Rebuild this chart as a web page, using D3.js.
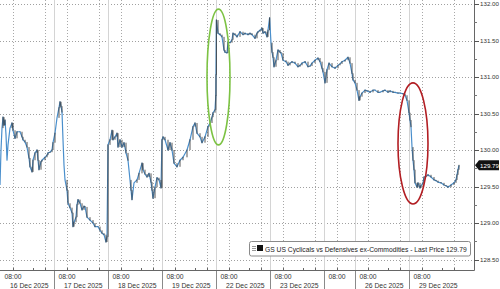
<!DOCTYPE html>
<html><head><meta charset="utf-8">
<script src="https://cdn.jsdelivr.net/npm/d3@7"></script>
<style>html,body{margin:0;padding:0;background:#fff;overflow:hidden}</style>
</head><body><svg id="c" width="500" height="289"></svg>
<script>
// ---------- DATA ----------
const sessionDates = ["16 Dec 2025","17 Dec 2025","18 Dec 2025","19 Dec 2025","22 Dec 2025","23 Dec 2025","","26 Dec 2025","29 Dec 2025"];
const sessionLengths = [13.5,13.5,13.5,13.5,13.5,13.5,7.75,13.5,13.5]; // trading hours per session
const sessionOpenHour = 4.75;   // 04:45
const xEndHours = 118.5;
const gridHours = [8, 16];
const tickHours = [8, 13, 16];
const timeLabel = "08:00";
const priceTicks = [128.5,129,129.5,130,130.5,131,131.5,132];
const minorPriceTicks = [128.75,129.25,129.75,130.25,130.75,131.25,131.75];
const seriesName = "GS US Cyclicals vs Defensives ex-Commodities - Last Price";
const lastPrice = 129.79;
// [elapsed trading hours, price]
const priceSeries = [
[0,129.52],[0.25,130.00],[0.5,130.30],[0.75,130.45],[1.0,130.34],[1.25,130.41],[1.5,130.21],[1.75,129.86],[2.0,130.07],[2.5,130.30],
[3.0,130.37],[3.25,130.27],[3.75,130.16],[4.25,130.25],[5.0,130.25],[5.5,130.18],[5.75,130.14],[6.25,130.11],[6.75,130.04],[7.25,129.89],
[7.5,129.77],[8.0,129.70],[8.25,129.86],[8.75,129.96],[9.25,130.00],[9.5,129.86],[9.75,129.73],[10.25,129.84],[10.5,129.86],[11.25,129.90],
[11.75,129.93],[12.0,129.96],[12.5,129.97],[13.0,130.00],[13.25,130.10],
[13.75,130.23],[14.25,130.44],[14.75,130.58],[15.0,130.66],[15.25,130.60],[15.5,130.52],[15.75,130.14],[16.0,129.79],[16.25,129.59],[16.75,129.45],
[17.0,129.27],[17.5,129.21],[18.0,129.14],[18.25,128.95],[18.5,129.01],[19.0,129.08],[19.25,129.25],[19.5,129.32],[20.0,129.27],[20.5,129.18],
[21.0,129.23],[21.25,129.22],[21.75,129.08],[22.5,129.04],[23.25,129.00],[23.75,128.95],[24.5,128.95],[25.0,128.90],[25.5,128.86],[26.0,128.84],
[26.5,128.74],[26.75,128.81],
[27.0,130.07],[27.5,130.14],[28.0,130.27],[28.25,130.14],[28.75,130.18],[29.25,130.23],[29.5,130.04],[30.0,130.14],[30.5,130.04],[31.0,130.10],
[31.5,129.96],[32.0,129.86],[32.5,129.59],[32.75,129.45],[33.0,129.32],[33.5,129.55],[34.25,129.59],[34.75,129.68],[35.5,129.82],[35.75,129.73],
[36.25,129.67],[36.75,129.63],[37.25,129.68],[37.75,129.56],[38.0,129.45],[38.25,129.34],[38.75,129.49],[39.25,129.62],[39.75,129.59],[40.25,129.48],
[40.5,130.14],[40.75,130.18],[41.25,130.14],[42.0,130.00],[42.5,130.10],[43.0,130.00],[43.5,129.82],[44.25,129.77],[45.0,129.86],[45.75,129.90],
[46.75,130.00],[47.5,130.14],[48.25,130.32],[48.75,130.37],[49.25,130.23],[50.0,130.18],[50.5,130.10],[51.25,130.18],[52.0,130.32],[52.5,130.37],
[53.0,130.45],[53.25,130.51],[53.75,130.55],[53.95,130.74],
[54.0,131.03],[54.1,131.78],[54.5,131.60],[55.0,131.58],[55.5,131.55],[56.0,131.37],[56.25,131.34],[56.75,131.33],[57.0,131.48],[57.5,131.47],
[58.0,131.51],[58.25,131.60],[58.75,131.58],[59.25,131.55],[60.0,131.62],[60.75,131.58],[61.25,131.60],[62.0,131.58],[62.5,131.60],[63.0,131.58],
[63.75,131.53],[64.25,131.60],[64.5,131.62],[65.0,131.64],[65.5,131.67],[65.75,131.60],[66.25,131.62],[66.75,131.55],[67.0,131.64],[67.4,131.81],
[67.75,131.47],[68.0,131.34],[68.25,131.27],[68.5,131.14],[69.0,131.23],[69.5,131.37],[70.0,131.34],[70.25,131.33],[70.75,131.23],[71.5,131.21],
[72.0,131.16],[72.5,131.19],[73.0,131.21],[73.75,131.19],[74.5,131.14],[75.0,131.16],[75.5,131.19],[76.25,131.21],[77.0,131.14],[77.5,131.15],
[78.0,131.19],[78.75,131.23],[79.5,131.26],[80.0,131.21],[80.5,131.12],[80.75,131.07],
[81.25,130.92],[81.75,131.10],[82.25,131.19],[83.0,131.14],[83.75,131.12],[84.5,131.16],[85.0,131.18],[85.5,131.21],[86.25,131.23],[87.0,131.27],
[87.5,131.19],[88.0,131.05],[88.25,130.96],
[88.75,130.92],[89.25,130.82],[89.75,130.68],[90.0,130.73],[90.5,130.78],[91.25,130.82],[91.75,130.81],[92.5,130.79],[93.25,130.82],[93.75,130.82],
[94.5,130.79],[95.0,130.79],[95.75,130.81],[96.25,130.82],[97.0,130.79],[97.5,130.81],[98.25,130.79],[98.75,130.79],[99.5,130.78],[100.0,130.78],
[100.75,130.77],[101.25,130.75],[101.75,130.68],
[102.25,130.51],[102.5,130.41],[102.75,130.32],[103.0,130.04],[103.25,129.86],[103.5,129.73],[103.75,129.55],[104.25,129.49],[104.5,129.55],[105.0,129.48],
[105.25,129.51],[105.75,129.55],[106.0,129.63],[106.5,129.64],[107.0,129.66],[107.75,129.63],[108.5,129.59],[109.0,129.58],[109.5,129.56],[110.25,129.55],
[111.0,129.52],[111.5,129.51],[112.0,129.49],[112.75,129.52],[113.5,129.55],[114.0,129.59],[114.25,129.66],[114.5,129.73],[114.75,129.79]
];
// annotation ellipses: [startHours, endHours, lowPrice, highPrice, colour]
const annotations = [
  [51.75, 57.5, 130.07, 131.93, "#7cc243"],
  [99.5, 107.0, 129.26, 130.92, "#b21e23"]
];

// ---------- CHART ----------
const svg = d3.select("#c");
const plotRight = 474, plotBottom = 270;
const x = d3.scaleLinear().domain([0, xEndHours]).range([0, plotRight]);
const y = d3.scaleLinear().domain([128.5, 132]).range([259.5, 4]);
const FONT = "'Liberation Sans', Arial, sans-serif";

const starts = []; let acc = 0;
sessionLengths.forEach(l => { starts.push(acc); acc += l; });

// horizontal dotted grid
svg.append("g").selectAll("line").data(priceTicks).join("line")
  .attr("x1", 0).attr("x2", plotRight)
  .attr("y1", d => Math.round(y(d)) + 0.5).attr("y2", d => Math.round(y(d)) + 0.5)
  .attr("stroke", "#a0a0a0").attr("stroke-dasharray", "1,2");

// vertical dotted grid at 08:00 / 16:00
const gridPos = [];
starts.forEach((s, i) => gridHours.forEach(h => {
  const off = h - sessionOpenHour;
  if (off < sessionLengths[i] || i === starts.length - 1) gridPos.push(s + off);
}));
svg.append("g").selectAll("line").data(gridPos).join("line")
  .attr("x1", d => Math.round(x(d)) + 0.5).attr("x2", d => Math.round(x(d)) + 0.5)
  .attr("y1", 0).attr("y2", plotBottom)
  .attr("stroke", "#a8a8a8").attr("stroke-dasharray", "1,2");

// session separators
const seps = starts.slice(1);
svg.append("g").selectAll("line").data(seps).join("line")
  .attr("x1", d => Math.round(x(d)) + 0.5).attr("x2", d => Math.round(x(d)) + 0.5)
  .attr("y1", 0).attr("y2", plotBottom)
  .attr("stroke", "#d4d4d4").attr("stroke-width", 1);
svg.append("g").selectAll("line").data(seps).join("line")
  .attr("x1", d => Math.round(x(d)) + 0.5).attr("x2", d => Math.round(x(d)) + 0.5)
  .attr("y1", plotBottom).attr("y2", 289)
  .attr("stroke", "#8a8a8a").attr("stroke-width", 1);

// series: blue close line
const line = d3.line().x(d => x(d[0])).y(d => y(d[1]));
svg.append("path").datum(priceSeries).attr("d", line)
  .attr("fill", "none").attr("stroke", "#4a8fcc").attr("stroke-width", 1.2)
  .attr("stroke-linejoin", "round");

// dark range bars between consecutive points
const isOpen = h => starts.some(s => Math.abs(s - h) < 1e-9) ;
const bars = [];
for (let i = 1; i < priceSeries.length; i++) {
  const [h, v] = priceSeries[i];
  const pv = priceSeries[i - 1][1];
  const dy = Math.abs(y(v) - y(pv));
  if (dy <= 14 || isOpen(h) || h === 54.1) bars.push([h, pv, v]);
}
svg.append("g").selectAll("line").data(bars).join("line")
  .attr("x1", d => x(d[0])).attr("x2", d => x(d[0]))
  .attr("y1", d => y(d[1])).attr("y2", d => y(d[2]) + (d[2] < d[1] ? 1 : -1) * 0.5)
  .attr("stroke", "#3a3a3a").attr("stroke-width", 1).attr("stroke-opacity", 0.85);

// annotation ellipses
svg.append("g").selectAll("ellipse").data(annotations).join("ellipse")
  .attr("cx", d => (x(d[0]) + x(d[1])) / 2)
  .attr("cy", d => (y(d[2]) + y(d[3])) / 2)
  .attr("rx", d => (x(d[1]) - x(d[0])) / 2)
  .attr("ry", d => (y(d[2]) - y(d[3])) / 2)
  .attr("fill", "none").attr("stroke", d => d[4]).attr("stroke-width", 1.6);

// axes lines
svg.append("line").attr("x1", 0).attr("x2", plotRight + 0.5).attr("y1", plotBottom + 0.5).attr("y2", plotBottom + 0.5)
  .attr("stroke", "#666");
svg.append("line").attr("x1", plotRight + 0.5).attr("x2", plotRight + 0.5).attr("y1", 0).attr("y2", plotBottom + 0.5)
  .attr("stroke", "#666");

// y ticks
svg.append("g").selectAll("line").data(priceTicks).join("line")
  .attr("x1", plotRight).attr("x2", plotRight + 5)
  .attr("y1", d => Math.round(y(d)) + 0.5).attr("y2", d => Math.round(y(d)) + 0.5)
  .attr("stroke", "#555");
svg.append("g").selectAll("line").data(minorPriceTicks).join("line")
  .attr("x1", plotRight).attr("x2", plotRight + 3)
  .attr("y1", d => Math.round(y(d)) + 0.5).attr("y2", d => Math.round(y(d)) + 0.5)
  .attr("stroke", "#777");
svg.append("g").selectAll("text").data(priceTicks).join("text")
  .attr("x", plotRight + 6).attr("y", d => y(d) + 2.2)
  .attr("font-family", FONT).attr("font-size", 6.2).attr("fill", "#333")
  .text(d => d.toFixed(2));

// x ticks
const tickPos = [];
starts.forEach((s, i) => tickHours.forEach(h => {
  const off = h - sessionOpenHour;
  if (off < sessionLengths[i]) tickPos.push(s + off);
}));
svg.append("g").selectAll("line").data(tickPos).join("line")
  .attr("x1", d => Math.round(x(d)) + 0.5).attr("x2", d => Math.round(x(d)) + 0.5)
  .attr("y1", plotBottom - 2).attr("y2", plotBottom)
  .attr("stroke", "#666");

// x labels
const labelG = svg.append("g").attr("font-family", FONT).attr("font-size", 6.8).attr("fill", "#333");
starts.forEach((s, i) => {
  const px = x(s + 8 - sessionOpenHour);
  labelG.append("text").attr("x", px).attr("y", 279).attr("text-anchor", "middle").text(timeLabel);
  if (sessionDates[i]) labelG.append("text").attr("x", px - 3).attr("y", 287.5).text(sessionDates[i]);
});

// last price tag
const ty = y(lastPrice);
svg.append("path")
  .attr("d", `M${plotRight + 1},${ty} L${plotRight + 5},${ty - 5} L499,${ty - 5} L499,${ty + 5} L${plotRight + 5},${ty + 5} Z`)
  .attr("fill", "#111");
svg.append("text").attr("x", plotRight + 6).attr("y", ty + 2.2)
  .attr("font-family", FONT).attr("font-size", 6.2).attr("fill", "#fff").text(lastPrice.toFixed(2));

// legend
const lg = svg.append("g");
lg.append("rect").attr("x", 249.5).attr("y", 241.5).attr("width", 221).attr("height", 14.5)
  .attr("rx", 2).attr("fill", "#fff").attr("stroke", "#8a8a8a");
[0, 2, 4].forEach(o => lg.append("line").attr("x1", 252).attr("x2", 256)
  .attr("y1", 246 + o + 0.5).attr("y2", 246 + o + 0.5).attr("stroke", "#999"));
lg.append("rect").attr("x", 257).attr("y", 245).attr("width", 6).attr("height", 6).attr("fill", "#111");
const lt = lg.append("text").attr("x", 265).attr("y", 251.5)
  .attr("font-family", FONT).attr("font-size", 6.8).attr("fill", "#222")
  .text(seriesName + " " + lastPrice.toFixed(2));
const tl = lt.node().getComputedTextLength();
lt.attr("font-size", 6.8 * 202 / tl);
</script></body></html>
